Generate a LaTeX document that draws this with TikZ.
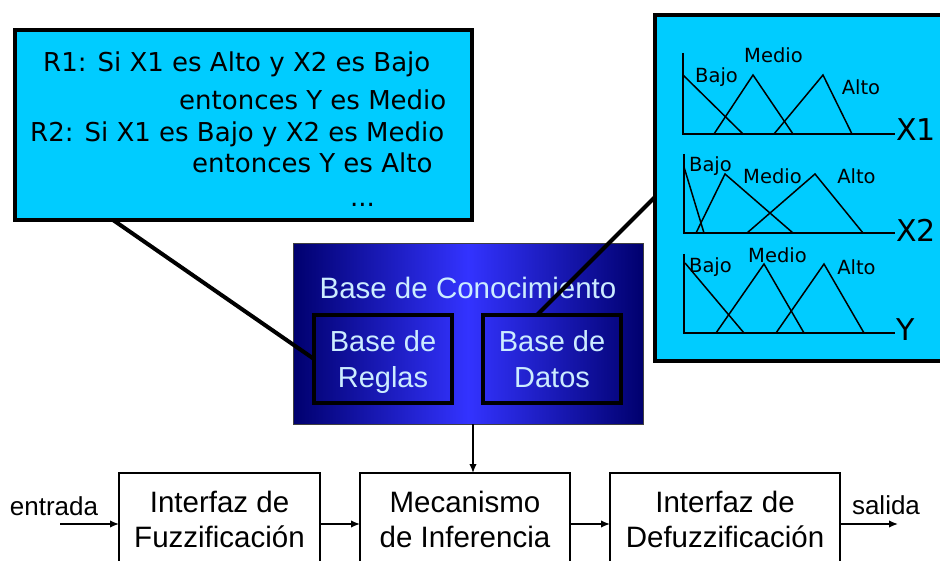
\documentclass[tikz,border=0pt]{standalone}
\usepackage{fontspec}
\setmainfont{Liberation Sans}
\newfontfamily\tahoma{DejaVu Sans}
\usepackage{tikz}
\usetikzlibrary{calc,positioning,arrows.meta}

\definecolor{panelcyan}{RGB}{0,204,255}
\definecolor{kbdark}{RGB}{0,0,110}
\definecolor{kblight}{RGB}{51,51,255}
\definecolor{kbtext}{RGB}{204,236,255}

\begin{document}
\begin{tikzpicture}[x=1pt,y=-1pt]
\tikzstyle{panel}=[draw,fill=panelcyan,line width=4pt,outer sep=0pt]
\tikzstyle{inner}=[draw,line width=4pt,outer sep=0pt,minimum width=138pt,minimum height=88pt,align=center,text depth=0pt,text=kbtext,font=\fontsize{29}{36}\selectfont]
\tikzstyle{block}=[draw,line width=1.3pt,outer sep=0pt,minimum height=93pt,align=center,font=\fontsize{29.5}{35}\selectfont]
\tikzstyle{callout}=[line width=4pt]
\tikzstyle{flow}=[-{Latex[length=9pt,width=7.5pt]},line width=1.5pt]
\tikzstyle{ax}=[line width=2pt]
\tikzstyle{mf}=[line width=1.5pt]
\tikzstyle{rule}=[anchor=base west,inner sep=0pt,font=\tahoma\fontsize{26}{31}\selectfont]
\tikzstyle{term}=[inner sep=0pt,font=\tahoma\fontsize{19.5}{23}\selectfont]
\tikzstyle{axisname}=[anchor=west,inner sep=0pt,font=\tahoma\fontsize{30}{36}\selectfont]

\useasboundingbox (0,0) rectangle (940,561);

% reglas
\node (rules) [panel,minimum width=457pt,minimum height=190pt] at (243.5,125) {};
\node (r1) [rule] at (43,72) {R1: Si X1 es Alto y X2 es Bajo};
\node (r1b) [rule] at (179,110) {entonces Y es Medio};
\node (r2) [rule] at (30,142) {R2: Si X1 es Bajo y X2 es Medio};
\node (r2b) [rule] at (192,173) {entonces Y es Alto};
\node (dots) [rule] at (350,207) {...};

% funciones de pertenencia
\node (dbox) [panel,minimum width=305pt,minimum height=346pt] at (807.5,188) {};

\draw [ax] (683,53) -- (683,134) -- (895,134);
\draw [mf] (683,75) -- (743,134);
\draw [mf] (714,134) -- (753,75) -- (793,134);
\draw [mf] (774,134) -- (823,75) -- (852,134);
\node (bajo1) [term] at (716.5,77) {Bajo};
\node (medio1) [term] at (773.5,55) {Medio};
\node (alto1) [term] at (861,87) {Alto};
\node (x1) [axisname] at (896,130) {X1};

\draw [ax] (684,154) -- (684,233) -- (895,233);
\draw [mf] (684,167) -- (704,233);
\draw [mf] (696,233) -- (725,174) -- (793,233);
\draw [mf] (747,233) -- (815,174) -- (863,233);
\node (bajo2) [term] at (710.5,166) {Bajo};
\node (medio2) [term] at (772.5,176) {Medio};
\node (alto2) [term] at (856.5,176) {Alto};
\node (x2) [axisname] at (896,230) {X2};

\draw [ax] (684,254) -- (684,333) -- (895,333);
\draw [mf] (685,263) -- (744,333);
\draw [mf] (716,333) -- (764,264) -- (804,333);
\draw [mf] (776,333) -- (824,264) -- (864,333);
\node (bajo3) [term] at (710.5,267) {Bajo};
\node (medio3) [term] at (777.5,255) {Medio};
\node (alto3) [term] at (856.5,267) {Alto};
\node (y) [axisname] at (896,330) {Y};

% base de conocimiento
\node (kb) [draw=darkgray,line width=1pt,outer sep=0pt,left color=kbdark,right color=kbdark,middle color=kblight,minimum width=350pt,minimum height=180pt] at (468,334) {};
\node (kbtitle) [text=kbtext,font=\fontsize{29.5}{35}\selectfont] at (468,288) {Base de Conocimiento};
\node (reglas) [inner] at (383,359) {Base de\\Reglas};
\node (datos) [inner] at (552,359) {Base de\\Datos};

\draw [callout] ($(rules.south west)+(98,0)$) -- (reglas.west);
\draw [callout] ($(dbox.west)+(0,9)$) -- ($(datos.north)+(-15,0)$);

% bloques
\node (fuzz) [block,minimum width=201pt] at (219.5,519.5) {Interfaz de\\Fuzzificación};
\node (infer) [block,minimum width=210pt] at (465,519.5) {Mecanismo\\de Inferencia};
\node (defuzz) [block,minimum width=230pt] at (725,519.5) {Interfaz de\\Defuzzificación};

\coordinate (kbout) at ($(kb.south)+(5,0)$);
\draw [flow] (kbout) -- (kbout |- infer.north);

\draw [flow] ($(fuzz.east)+(0,4.5)$) -- ($(infer.west)+(0,4.5)$);
\draw [flow] ($(infer.east)+(0,4.5)$) -- ($(defuzz.west)+(0,4.5)$);

\coordinate (in) at (60,524);
\draw [flow] (in) -- (in -| fuzz.west);
\node (entrada) [font=\fontsize{26}{31}\selectfont] at (54,506) {entrada};

\coordinate (out) at (898,524);
\draw [flow] (out -| defuzz.east) -- (out);
\node (salida) [font=\fontsize{26}{31}\selectfont] at (886,505) {salida};

\end{tikzpicture}
\end{document}
